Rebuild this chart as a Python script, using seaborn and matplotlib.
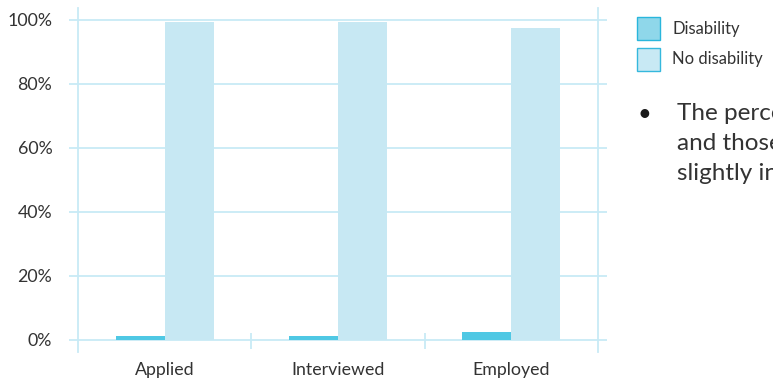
import matplotlib
matplotlib.use("Agg")
import matplotlib.pyplot as plt
from matplotlib.patches import Patch
import pandas as pd
import seaborn as sns

# Share of people at each recruitment stage, by disability status (%)
stages = ["Applied", "Interviewed", "Employed"]
disability = [1.2, 1.2, 2.5]
no_disability = [99.3, 99.3, 97.5]
series_names = ["Disability", "No disability"]
y_ticks = [0, 20, 40, 60, 80, 100]
y_tick_labels = ["0%", "20%", "40%", "60%", "80%", "100%"]
note_lines = ["The percentage of people with a disability",
              "and those without remained stable, rising",
              "slightly in the employed stage."]

df = pd.DataFrame({
    "stage": stages * 2,
    "status": [series_names[0]] * len(stages) + [series_names[1]] * len(stages),
    "share": disability + no_disability,
})

sns.set_theme(style="white")
plt.rcParams["font.family"] = ["Lato", "DejaVu Sans"]

bar_colors = {"Disability": "#4fc8e4", "No disability": "#c7e8f3"}
grid_color = "#c8eaf6"
text_color = "#333333"

fig = plt.figure(figsize=(7.73, 3.79), dpi=100)
W, H = 773, 379
ax = fig.add_axes([78 / W, (H - 352) / H, (598 - 78) / W, (352 - 8) / H])

sns.barplot(data=df, x="stage", y="share", hue="status", order=stages,
            hue_order=series_names, palette=bar_colors, width=0.565,
            saturation=1, linewidth=0, ax=ax, legend=False, zorder=3)

ax.set_xlim(-0.5, 2.5)
ax.set_ylim(-3.75, 103.75)
ax.set_xlabel("")
ax.set_ylabel("")

# horizontal gridlines that run slightly past both vertical frame lines
ax.set_yticks(y_ticks)
ax.set_yticklabels(y_tick_labels)
for v in y_ticks:
    ax.axhline(v, color=grid_color, lw=1.3, zorder=1)
ax.tick_params(axis="y", which="major", direction="out", length=6.5,
               width=1.3, color=grid_color, left=True, right=True,
               labelsize=12.8, labelcolor=text_color, pad=12)
ax.tick_params(axis="x", length=0, labelsize=12.8, labelcolor=text_color, pad=7)

for side in ["top", "bottom"]:
    ax.spines[side].set_visible(False)
for side in ["left", "right"]:
    ax.spines[side].set_color(grid_color)
    ax.spines[side].set_linewidth(1.3)

# short separators between stage groups, centred on the zero line
for xb in [0.5, 1.5]:
    ax.plot([xb, xb], [-2.8, 2.2], color=grid_color, lw=1.3, zorder=1,
            solid_capstyle="butt")

handles = [Patch(facecolor="#8fd7ea", edgecolor="#29b6dc", lw=1.0),
           Patch(facecolor="#c8e9f4", edgecolor="#35b8dd", lw=1.0)]
fig.legend(handles, series_names, loc="upper left",
           bbox_to_anchor=(637 / W, 1 - 17 / H), frameon=False,
           fontsize=12, handlelength=1.4, handleheight=1.75,
           handletextpad=0.7, labelspacing=0.45, labelcolor=text_color,
           borderaxespad=0, borderpad=0)

fig.text(638 / W, 1 - 114 / H, "\u2022", fontsize=17, color="#1a1a1a",
         va="center", ha="left")
for i, line in enumerate(note_lines):
    fig.text(677 / W, 1 - (120 + 30 * i) / H, line, fontsize=17.5,
             color=text_color, va="baseline", ha="left")

fig.savefig("out.png", dpi=100)
